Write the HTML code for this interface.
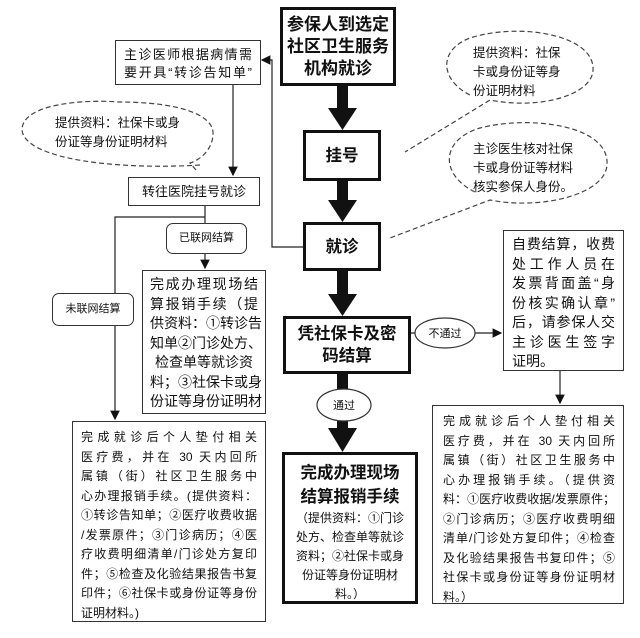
<!DOCTYPE html>
<html><head><meta charset="utf-8"><style>
body{margin:0;width:640px;height:638px;background:#fff;position:relative;overflow:hidden;font-family:"Liberation Sans","Noto Sans CJK SC",sans-serif;color:#111}
.b{position:absolute;border:1px solid #333;background:#fff;box-sizing:border-box;text-align:center;font-size:12.5px;line-height:17px}
.t{border:3px solid #111;font-weight:bold;font-size:16.5px;line-height:22px;display:flex;align-items:center;justify-content:center}
.r{border-radius:7px;display:flex;align-items:center;justify-content:center;font-size:11px}
.p{position:absolute;font-size:12px;line-height:19px;text-align:left}
.j div{text-align:justify;text-align-last:justify;white-space:nowrap;overflow:visible}
.j div.l{text-align-last:left}
svg{position:absolute;left:0;top:0}
</style></head><body>
<svg width="640" height="638">
<defs><marker id="a" markerWidth="8" markerHeight="8" refX="7" refY="4" orient="auto"><path d="M0,0L8,4L0,8z" fill="#111"/></marker></defs>
<g fill="#111">
<rect x="337" y="85" width="11" height="25"/><path d="M328,108h29l-14.5,22z"/>
<rect x="337" y="180" width="11" height="22"/><path d="M328,200h29l-14.5,22z"/>
<rect x="337" y="270" width="11" height="26"/><path d="M328,294h29l-14.5,22z"/>
<rect x="337" y="373" width="11" height="57"/><path d="M328,428h29l-14.5,24z"/>
</g>
<g stroke="#222" stroke-width="1.2" fill="none">
<path d="M303,247H272V60H262" marker-end="url(#a)"/>
<path d="M233,85V175" marker-end="url(#a)"/>
<path d="M205,205V268" marker-end="url(#a)"/>
<path d="M205,217H115V419" marker-end="url(#a)"/>
<path d="M410,333H416M475,333H501" marker-end="url(#a)"/>
<path d="M560,370V403" marker-end="url(#a)"/>
</g>
<g stroke="#444" stroke-width="1.2" fill="#fff" stroke-dasharray="5,3">
<path d="M200,165 C120,170 25,160 22,130 C22,100 100,100 118,102 C180,102 215,115 213,135 C212,150 200,160 190,163 L196,170"/>
<path d="M470,95 C440,80 438,50 470,38 C520,22 595,35 593,70 C592,95 540,110 490,100 L405,152"/>
<path d="M475,192 C440,175 440,140 480,128 C530,115 610,125 607,165 C605,195 540,210 490,200 L390,238"/>
</g>
<g stroke="#333" stroke-width="1.2" fill="#fff">
<ellipse cx="445" cy="333" rx="30" ry="15"/>
<ellipse cx="344" cy="405" rx="27" ry="16"/>
</g>
<text x="445" y="337" font-size="11" text-anchor="middle" fill="#111">不通过</text>
<text x="344" y="409" font-size="11" text-anchor="middle" fill="#111">通过</text>
</svg>
<div class="b t" style="left:280px;top:7px;width:116px;height:79px;font-size:17px">参保人到选定<br>社区卫生服务<br>机构就诊</div>
<div class="b t" style="left:303px;top:130px;width:78px;height:51px">挂号</div>
<div class="b t" style="left:303px;top:222px;width:78px;height:49px">就诊</div>
<div class="b t" style="left:283px;top:316px;width:128px;height:58px">凭社保卡及密<br>码结算</div>
<div class="b t" style="left:282px;top:452px;width:136px;height:152px;display:block;padding-top:6px"><div style="font-size:16.5px;line-height:24px">完成办理现场<br>结算报销手续</div><div style="font-weight:normal;font-size:12px;line-height:19px">（提供资料：①门诊<br>处方、检查单等就诊<br>资料；②社保卡或身<br>份证等身份证明材<br>料。）</div></div>
<div class="b j" style="left:115px;top:40px;width:146px;height:45px;padding:5px 8px 0;font-size:13px;line-height:18px"><div>主诊医师根据病情需</div><div>要开具“转诊告知单”</div></div>
<div class="p" style="left:55px;top:114px;font-size:12.5px">提供资料：社保卡或身<br>份证等身份证明材料</div>
<div class="b" style="left:128px;top:177px;width:132px;height:29px;line-height:27px;font-size:13px">转往医院挂号就诊</div>
<div class="b r" style="left:166px;top:223px;width:81px;height:31px">已联网结算</div>
<div class="b j" style="left:142px;top:270px;width:124px;height:144px;font-size:14px;line-height:19.5px;padding:4px 7px 0"><div>完成办理现场结</div><div>算报销手续（提</div><div>供资料：①转诊告</div><div>知单②门诊处方、</div><div style="text-align-last:center">检查单等就诊资</div><div>料；③社保卡或身</div><div>份证等身份证明材</div></div>
<div class="b r" style="left:52px;top:293px;width:82px;height:33px">未联网结算</div>
<div class="b j" style="left:72px;top:421px;width:194px;height:201px;padding:6px 8px 0 8px;font-size:12px;line-height:19.5px"><div>完成就诊后个人垫付相关</div><div>医疗费，并在 30 天内回所</div><div>属镇（街）社区卫生服务中</div><div>心办理报销手续。(提供资料：</div><div>①转诊告知单；②医疗收费收据</div><div>/发票原件；③门诊病历；④医</div><div>疗收费明细清单/门诊处方复印</div><div>件；⑤检查及化验结果报告书复</div><div>印件；⑥社保卡或身份证等身份</div><div class="l">证明材料。)</div></div>
<div class="p" style="left:473px;top:44px;font-size:12.5px">提供资料：社保<br>卡或身份证等身<br>份证明材料</div>
<div class="p" style="left:473px;top:140px;font-size:12.5px">主诊医生核对社保<br>卡或身份证等材料<br>核实参保人身份。</div>
<div class="b j" style="left:503px;top:230px;width:121px;height:141px;padding:4px 8px 0 8px;font-size:14px;line-height:19.5px"><div>自费结算，收费</div><div>处工作人员在</div><div>发票背面盖“身</div><div>份核实确认章”</div><div>后，请参保人交</div><div>主诊医生签字</div><div class="l">证明。</div></div>
<div class="b j" style="left:432px;top:405px;width:192px;height:199px;padding:6px 8px 0 10px;font-size:12px;line-height:19.5px"><div>完成就诊后个人垫付相关</div><div>医疗费，并在 30 天内回所</div><div>属镇（街）社区卫生服务中</div><div>心办理报销手续。（提供资</div><div>料：①医疗收费收据/发票原件；</div><div>②门诊病历；③医疗收费明细</div><div>清单/门诊处方复印件；④检查</div><div>及化验结果报告书复印件；⑤</div><div>社保卡或身份证等身份证明材</div><div class="l">料。）</div></div>
</body></html>
